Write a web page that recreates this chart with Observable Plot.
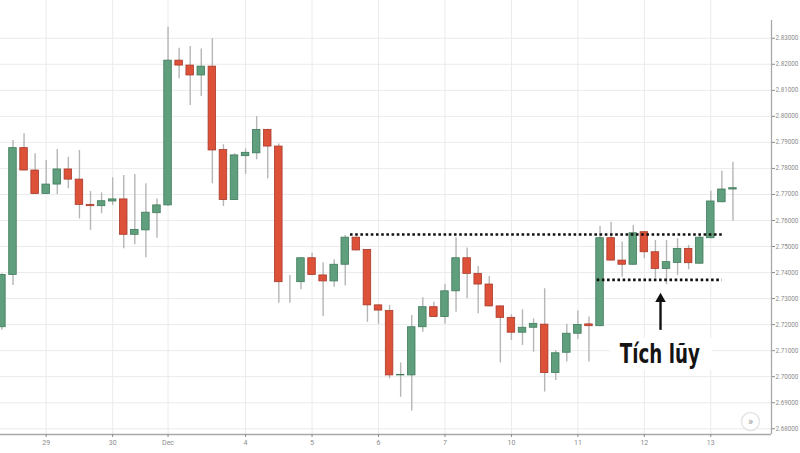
<!DOCTYPE html>
<html><head><meta charset="utf-8">
<script src="https://cdn.jsdelivr.net/npm/d3@7"></script>
<script src="https://cdn.jsdelivr.net/npm/@observablehq/plot@0.6"></script>
<style>body{margin:0;background:#fff;}</style>
</head><body><div id="chart"></div>
<script>
// OHLC (4h candles), index 0..66
const opens  = [2.7190,2.7391,2.7878,2.7792,2.7702,2.7738,2.7796,2.7757,2.7660,2.7655,2.7673,2.7681,2.7545,2.7562,2.7628,2.7658,2.8214,2.8195,2.8157,2.8191,2.7871,2.7679,2.7847,2.7858,2.7948,2.7884,2.7366,2.7363,2.7455,2.7389,2.7366,2.7430,2.7534,2.7487,2.7274,2.7252,2.7005,2.7005,2.7190,2.7267,2.7229,2.7328,2.7455,2.7395,2.7354,2.7270,2.7226,2.7169,2.7188,2.7200,2.7014,2.7092,2.7165,2.7201,2.7194,2.7532,2.7446,2.7430,2.7555,2.7478,2.7414,2.7437,2.7491,2.7434,2.7532,2.7670,2.7719];
const highs  = [2.7395,2.7907,2.7933,2.7856,2.7830,2.7873,2.7843,2.7869,2.7711,2.7706,2.7764,2.7773,2.7777,2.7741,2.7683,2.8342,2.8262,2.8268,2.8259,2.8298,2.7891,2.7856,2.7875,2.7999,2.7950,2.7894,2.7389,2.7457,2.7474,2.7438,2.7449,2.7542,2.7537,2.7489,2.7276,2.7274,2.7053,2.7235,2.7303,2.7286,2.7354,2.7534,2.7494,2.7423,2.7385,2.7272,2.7238,2.7257,2.7222,2.7338,2.7101,2.7201,2.7252,2.7229,2.7577,2.7593,2.7517,2.7581,2.7557,2.7523,2.7523,2.7530,2.7504,2.7542,2.7712,2.7789,2.7824];
const lows   = [2.7178,2.7350,2.7790,2.7700,2.7700,2.7700,2.7722,2.7606,2.7562,2.7626,2.7658,2.7491,2.7507,2.7457,2.7532,2.7655,2.8144,2.8042,2.8076,2.7741,2.7654,2.7677,2.7777,2.7833,2.7760,2.7282,2.7282,2.7334,2.7388,2.7231,2.7344,2.7348,2.7483,2.7209,2.7201,2.6992,2.6921,2.6868,2.7171,2.7228,2.7201,2.7248,2.7299,2.7242,2.7268,2.7053,2.7139,2.7120,2.7094,2.6941,2.6985,2.7056,2.7143,2.7056,2.7192,2.7445,2.7382,2.7428,2.7453,2.7378,2.7353,2.7389,2.7411,2.7432,2.7530,2.7668,2.7597];
const closes = [2.7391,2.7878,2.7792,2.7702,2.7738,2.7796,2.7757,2.7660,2.7655,2.7674,2.7681,2.7545,2.7564,2.7630,2.7658,2.8214,2.8195,2.8157,2.8191,2.7869,2.7679,2.7850,2.7860,2.7948,2.7884,2.7363,2.7366,2.7455,2.7391,2.7366,2.7430,2.7534,2.7485,2.7274,2.7254,2.7005,2.7007,2.7190,2.7267,2.7229,2.7328,2.7455,2.7395,2.7354,2.7270,2.7226,2.7169,2.7188,2.7203,2.7014,2.7090,2.7165,2.7199,2.7194,2.7532,2.7446,2.7430,2.7551,2.7478,2.7414,2.7440,2.7491,2.7436,2.7534,2.7673,2.7719,2.7724];

// axis ticks
const dayTickIdx = [4,10,15,22,28,34,40,46,52,58,64];
const dayLabels  = ["29","30","Dec","4","5","6","7","10","11","12","13"];
const priceTicks = [2.68,2.69,2.70,2.71,2.72,2.73,2.74,2.75,2.76,2.77,2.78,2.79,2.80,2.81,2.82,2.83];

// annotations
const levelValues = [2.7546, 2.7372];
const levelStart  = [31.47, 53.74];
const levelEnd    = [65.17, 65.03];
const labelText = "Tích lũy";
const labelX = 59.4, labelY = 2.7084;
const labelBox = {x1: 54.94, x2: 64.15, y1: 2.7024, y2: 2.7147};
const arrowX = 59.46, arrowFrom = 2.7178, arrowTo = 2.7292, arrowHead = 2.7299;
const iconX = 67.58, iconY = 2.6828;

const xDomain = [-0.126, 69.48];
const yDomain = [2.6778, 2.8445];
const axisTop = 2.8368;

const data = opens.map((o, i) => ({i, open: o, high: highs[i], low: lows[i], close: closes[i]}));
const levels = levelValues.map((v, k) => ({y: v, x1: levelStart[k], x2: levelEnd[k]}));

const green = "#5f9f7d", greenEdge = "#3f7a5b", red = "#dd5139", redEdge = "#a83a2a";

const chart = Plot.plot({
  width: 800, height: 453,
  marginLeft: 0, marginRight: 29, marginTop: 0, marginBottom: 19,
  x: {domain: xDomain, axis: null},
  y: {domain: yDomain, axis: null},
  style: {fontFamily: "Roboto, 'Open Sans', sans-serif", background: "#fff", color: "#8c8c8c"},
  marks: [
    Plot.gridY(priceTicks, {stroke: "#ebebeb", strokeOpacity: 1}),
    Plot.gridX(dayTickIdx, {stroke: "#ebebeb", strokeOpacity: 1}),
    Plot.ruleX(data, {x: "i", y1: "low", y2: "high", stroke: "#b6b6b6", strokeWidth: 1.4, clip: true}),
    Plot.rect(data, {
      x1: d => d.i - 0.34, x2: d => d.i + 0.34, y1: "open", y2: "close",
      fill: d => d.close >= d.open ? green : red,
      stroke: d => d.close >= d.open ? greenEdge : redEdge,
      strokeWidth: 0.8, clip: true
    }),
    Plot.ruleY(levels, {y: "y", x1: "x1", x2: "x2", stroke: "#111", strokeWidth: 2.6, strokeDasharray: "2.6 2.6"}),
    Plot.rect([labelBox], {x1: "x1", x2: "x2", y1: "y1", y2: "y2", fill: "#fff", stroke: "none"}),
    Plot.ruleX([arrowX], {y1: arrowFrom, y2: arrowTo, stroke: "#111", strokeWidth: 2.4}),
    Plot.dot([arrowX], {x: d => d, y: arrowHead, symbol: "triangle", r: 3.9, fill: "#111", stroke: "none"}),
    Plot.text([labelText], {x: labelX, y: labelY, text: d => d, fontSize: 27, fontWeight: "bold",
      fontFamily: "'Liberation Sans Narrow', 'DejaVu Sans Condensed', 'Roboto', sans-serif",
      fill: "#141414", textAnchor: "middle", lineAnchor: "middle"}),
    Plot.ruleY([yDomain[0]], {stroke: "#a9a9a9", strokeWidth: 1.3}),
    Plot.ruleX([xDomain[1]], {y1: axisTop, y2: yDomain[0], stroke: "#a9a9a9", strokeWidth: 1.3}),
    Plot.axisY({ticks: priceTicks, anchor: "right", tickFormat: d3.format(".5f"), tickSize: 3, tickPadding: 1, fontSize: 6.3}),
    Plot.axisX({ticks: dayTickIdx, anchor: "bottom", tickFormat: i => dayLabels[dayTickIdx.indexOf(i)], tickSize: 3, tickPadding: 3, fontSize: 7}),
    Plot.dot([iconX], {x: d => d, y: iconY, r: 9, fill: "#fff", stroke: "#e6e6e6"}),
    Plot.text([iconX], {x: d => d, y: iconY, text: () => "»", fontSize: 11, fill: "#9a9a9a"})
  ]
});

// keep the label condensed like the original
chart.querySelectorAll("text").forEach(t => {
  if (t.textContent === labelText) {
    t.setAttribute("textLength", "80");
    t.setAttribute("lengthAdjust", "spacingAndGlyphs");
  }
});
document.getElementById("chart").appendChild(chart);
</script>
</body></html>
